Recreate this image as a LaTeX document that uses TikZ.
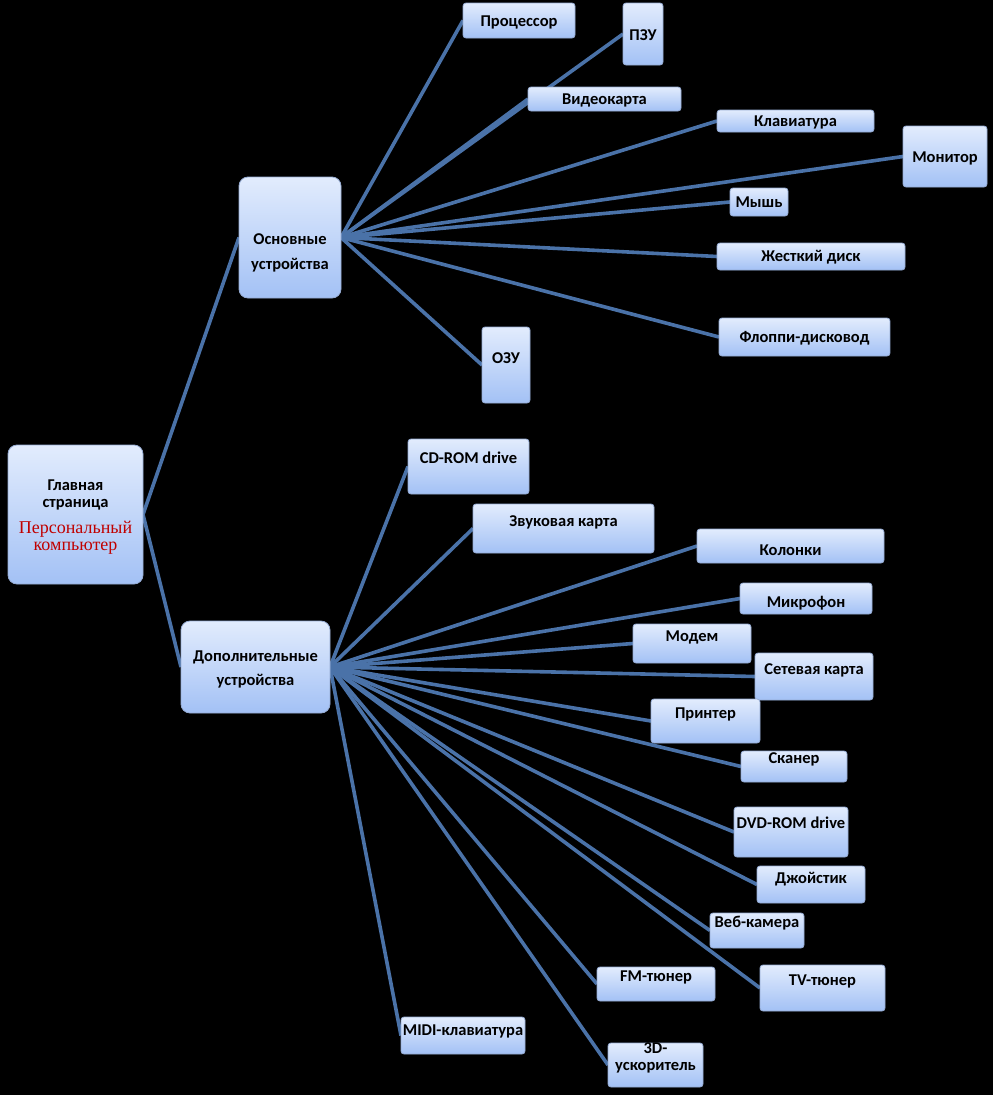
\documentclass[tikz,border=0pt]{standalone}
\usepackage{fontspec}
\setmainfont{Carlito}
\newfontfamily\pcserif{Liberation Serif}
\usepackage{xcolor}
\usetikzlibrary{positioning}

\pgfdeclarelayer{back}
\pgfdeclarelayer{lines}
\pgfsetlayers{back,lines,main}

\definecolor{linkblue}{RGB}{74,114,168}
\definecolor{boxtop}{RGB}{226,236,253}
\definecolor{boxbottom}{RGB}{163,193,245}
\definecolor{boxline}{RGB}{150,172,212}
\definecolor{pcred}{RGB}{192,0,0}

\tikzset{
    box/.style={draw=boxline, line width=0.8pt, top color=boxtop, bottom color=boxbottom,
        rounded corners=3pt, inner sep=0pt, outer sep=0pt, anchor=north west,
        font=\fontsize{16.5}{17}\selectfont\bfseries, text=black},
    hub/.style={box, rounded corners=9pt},
    link/.style={draw=linkblue, line width=3.6pt}
}

\begin{document}
\begin{tikzpicture}[x=1pt, y=-1pt]
    % Root and the two groups
    \node[hub, minimum width=135pt, text height=45pt, text depth=94pt] (pc) at (8,445)
        {\begin{tabular}[t]{@{}c@{}}Главная\\страница\\[9pt]
         \pcserif\mdseries\fontsize{18}{17}\selectfont\color{pcred}Персональный\\
         \pcserif\mdseries\fontsize{18}{17}\selectfont\color{pcred}компьютер\end{tabular}};
    \node[hub, minimum width=102pt, text height=67pt, text depth=54pt] (basic) at (239,177)
        {\begin{tabular}[t]{@{}c@{}}Основные\\[8pt]устройства\end{tabular}};
    \node[hub, minimum width=149pt, text height=40pt, text depth=52pt] (extra) at (181,621)
        {\begin{tabular}[t]{@{}c@{}}Дополнительные\\[7pt]устройства\end{tabular}};

    % Basic devices
    \node[box, minimum width=112pt, text height=23pt, text depth=12pt] (cpu) at (463,3) {Процессор};
    \node[box, minimum width=40pt, text height=37pt, text depth=25pt] (rom) at (623,3) {ПЗУ};
    \node[box, minimum width=153pt, text height=17pt, text depth=7pt] (video) at (528,87) {Видеокарта};
    \node[box, minimum width=157pt, text height=16pt, text depth=6pt] (kbd) at (717,110) {Клавиатура};
    \node[box, minimum width=84pt, text height=36pt, text depth=25pt] (monitor) at (903,126) {Монитор};
    \node[box, minimum width=58pt, text height=19pt, text depth=9pt] (mouse) at (730,188) {Мышь};
    \node[box, minimum width=188pt, text height=18pt, text depth=9pt] (hdd) at (717,243) {Жесткий диск};
    \node[box, minimum width=171pt, text height=24pt, text depth=14pt] (fdd) at (719,318) {Флоппи-дисковод};
    \node[box, minimum width=48pt, text height=36pt, text depth=40pt] (ram) at (482,327) {ОЗУ};

    % Extra devices
    \node[box, minimum width=121pt, text height=24pt, text depth=31pt] (cdrom) at (408,439) {CD-ROM drive};
    \node[box, minimum width=181pt, text height=22pt, text depth=27pt] (sound) at (473,504) {Звуковая карта};
    \node[box, minimum width=187pt, text height=26pt, text depth=8pt] (speakers) at (697,529) {Колонки};
    \node[box, minimum width=132pt, text height=24pt, text depth=7pt] (mic) at (740,583) {Микрофон};
    \node[box, minimum width=118pt, text height=17pt, text depth=22pt] (modem) at (633,624) {Модем};
    \node[box, minimum width=118pt, text height=21pt, text depth=26pt] (nic) at (755,653) {Сетевая карта};
    \node[box, minimum width=109pt, text height=19pt, text depth=25pt] (printer) at (651,699) {Принтер};
    \node[box, minimum width=106pt, text height=12pt, text depth=19pt] (scanner) at (741,751) {Сканер};
    \node[box, minimum width=114pt, text height=21pt, text depth=29pt] (dvd) at (734,807) {DVD-ROM drive};
    \node[box, minimum width=108pt, text height=17pt, text depth=20pt] (joystick) at (757,866) {Джойстик};
    \node[box, minimum width=94pt, text height=14pt, text depth=21pt] (webcam) at (710,913) {Веб-камера};
    \node[box, minimum width=118pt, text height=14pt, text depth=20pt] (fm) at (597,967) {FM-тюнер};
    \node[box, minimum width=125pt, text height=20pt, text depth=26pt] (tv) at (760,965) {TV-тюнер};
    \node[box, minimum width=124pt, text height=18pt, text depth=19pt] (midi) at (401,1017) {MIDI-клавиатура};
    \node[box, minimum width=95pt, text height=10pt, text depth=34pt] (accel) at (608,1043)
        {\begin{tabular}[t]{@{}c@{}}3D-\\ускоритель\end{tabular}};

    % Connectors
    \begin{pgfonlayer}{lines}
        \draw[link] (pc.east) -- (basic.west);
        \draw[link] (pc.east) -- (extra.west);
        \foreach \dev in {cpu,rom,video,kbd,monitor,mouse,hdd,fdd,ram}
            \draw[link] (basic.east) -- (\dev.west);
        \foreach \dev in {cdrom,sound,speakers,mic,modem,nic,printer,scanner,dvd,joystick,webcam,fm,tv,midi,accel}
            \draw[link] (extra.east) -- (\dev.west);
    \end{pgfonlayer}

    % Black page
    \begin{pgfonlayer}{back}
        \fill[black] (0,0) rectangle (993,1095);
    \end{pgfonlayer}
\end{tikzpicture}
\end{document}
